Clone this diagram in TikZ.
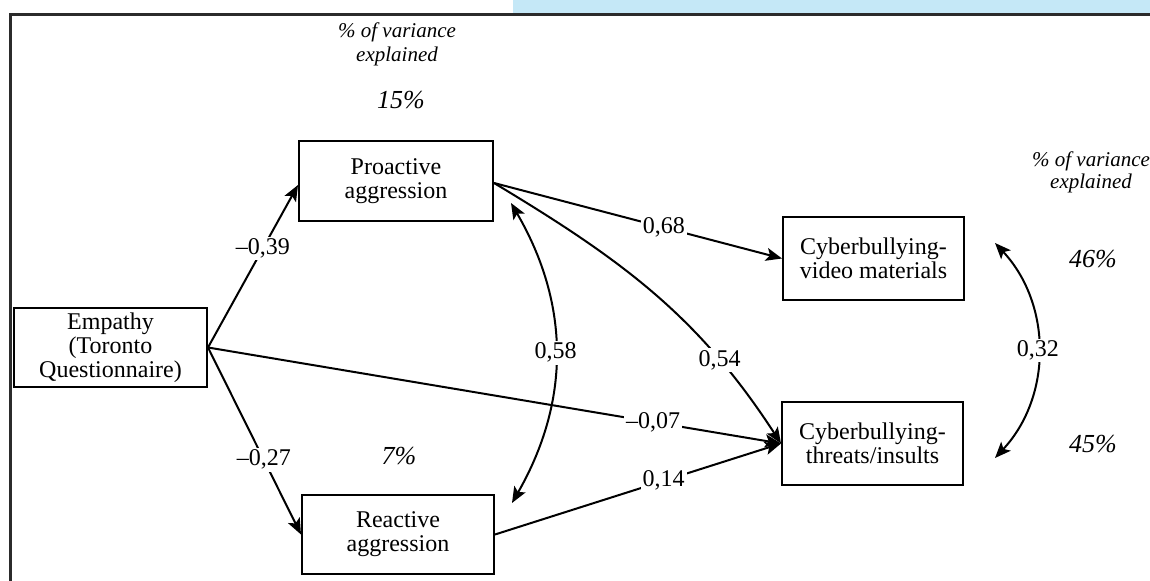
\documentclass[tikz,border=0pt]{standalone}
\usepackage{fontspec}
\setmainfont{Liberation Serif}
\usetikzlibrary{arrows.meta,calc}
\definecolor{bluebar}{HTML}{C5E8F7}
\definecolor{framegray}{HTML}{2B2B2B}
\begin{document}
\begin{tikzpicture}[x=0.5pt,y=-0.5pt,
  box/.style={draw,line width=1pt,inner sep=0pt,align=center,font=\fontsize{12}{12}\selectfont},
  conn/.style={line width=1pt,-{Stealth[length=8pt,width=6.5pt,inset=1.8pt]}},
  dconn/.style={line width=1pt,{Stealth[length=8pt,width=6.5pt,inset=1.8pt]}-{Stealth[length=8pt,width=6.5pt,inset=1.8pt]}},
  lbl/.style={fill=white,inner sep=1pt,font=\fontsize{12}{12}\selectfont},
  pct/.style={font=\fontsize{13}{13}\selectfont\itshape},
  varnote/.style={align=center,font=\fontsize{10.5}{12}\selectfont\itshape}]
\useasboundingbox (0,0) rectangle (1150,581);
\fill[bluebar] (513,0) rectangle (1150,14);
\draw[line width=1.5pt,color=framegray] (10,590) -- (10,15) -- (1160,15);

\node[box,minimum width=96.5pt,minimum height=39.5pt] (emp) at (110.5,347.5) {Empathy\\(Toronto\\Questionnaire)};
\node[box,minimum width=97pt,minimum height=40pt] (pro) at (396,181) {Proactive\\aggression};
\node[box,minimum width=96pt,minimum height=39.5pt] (rea) at (398,534.5) {Reactive\\aggression};
\node[box,minimum width=90.5pt,minimum height=41.5pt] (vid) at (873.5,258.5) {Cyberbullying-\\video materials};
\node[box,minimum width=90.5pt,minimum height=41.5pt] (thr) at (872.5,443.5) {Cyberbullying-\\threats/insults};

\node[varnote] (v1) at (397,44) {\% of variance\\explained};
\node[pct] (p15) at (401,100) {15\%};
\node[pct] (p7) at (399,456) {7\%};
\node[varnote,font=\fontsize{10.5}{11}\selectfont\itshape] (v2) at (1091,172) {\% of variance\\explained};
\node[pct] (p46) at (1093,259) {46\%};
\node[pct] (p45) at (1093,444) {45\%};

\coordinate (pe) at ($(pro.east)+(0,2)$);
\coordinate (pw) at ($(pro.west)+(0,4)$);
\draw[conn] (emp.east) -- node[lbl,pos=0.61]{–0,39} (pw);
\draw[conn] (emp.east) -- node[lbl,pos=0.6]{–0,27} (rea.west);
\draw[conn] (emp.east) -- node[lbl,pos=0.777]{–0,07} (thr.west);
\draw[conn] (pe) -- node[lbl,pos=0.59]{0,68} (vid.west);
\draw[conn] (pe) to[out=-31,in=123] node[lbl,pos=0.75]{0,54} (thr.west);
\draw[conn] (rea.east) -- node[lbl,pos=0.59]{0,14} (thr.west);

\coordinate (pa) at (511,203);
\coordinate (ra) at (512,503);
\draw[dconn] (pa) to[bend left=30] node[lbl,pos=0.5]{0,58} (ra);
\coordinate (va) at (995,243);
\coordinate (ta) at (995,458);
\draw[dconn] (va) to[bend left=43] node[lbl,pos=0.5]{0,32} (ta);
\end{tikzpicture}
\end{document}
